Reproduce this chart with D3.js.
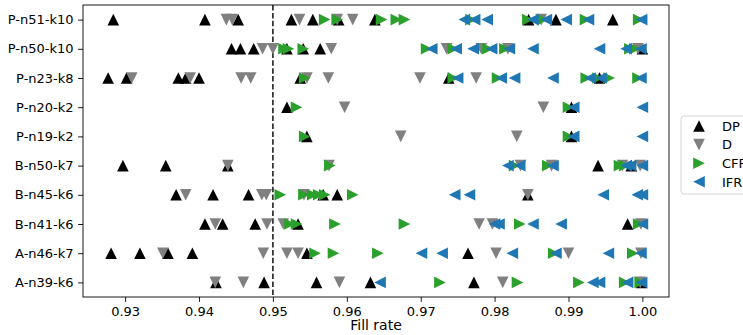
<!DOCTYPE html>
<html>
<head>
<meta charset="utf-8">
<script src="https://cdn.jsdelivr.net/npm/d3@7"></script>
<style>
  body { margin: 0; background: #fff; }
  svg { display: block; font-family: "DejaVu Sans", sans-serif; }
</style>
</head>
<body>
<div id="chart"></div>
<script>
// instances, top to bottom
const instances = ["P-n51-k10", "P-n50-k10", "P-n23-k8", "P-n20-k2", "P-n19-k2",
  "B-n50-k7", "B-n45-k6", "B-n41-k6", "A-n46-k7", "A-n39-k6"];

// fill rates per instance (same order as instances)
const dpRates = [
  [0.9284, 0.9408, 0.9453, 0.9525, 0.9554, 0.9589, 0.9638, 0.9846, 0.9883, 0.9960],
  [0.9444, 0.9456, 0.9474, 0.9519, 0.9541, 0.9564, 1.0000],
  [0.9277, 0.9302, 0.9372, 0.9382, 0.9400, 0.9537, 0.9738, 0.9942],
  [0.9519, 0.9904],
  [0.9546, 0.9904],
  [0.9297, 0.9355, 0.9439, 0.9940, 0.9985],
  [0.9369, 0.9419, 0.9467, 0.9568, 0.9587, 0.9845],
  [0.9408, 0.9432, 0.9476, 0.9534, 0.9980],
  [0.9281, 0.9320, 0.9358, 0.9391, 0.9546, 0.9764],
  [0.9423, 0.9488, 0.9559, 0.9632, 0.9772, 0.9999]
];
const dRates = [
  [0.9437, 0.9445, 0.9536, 0.9587, 0.9608, 0.9863],
  [0.9486, 0.9500, 0.9579, 0.9735, 0.9782, 0.9818, 0.9994],
  [0.9309, 0.9388, 0.9457, 0.9470, 0.9546, 0.9575, 0.9699, 0.9775],
  [0.9597, 0.9866],
  [0.9673, 0.9830],
  [0.9439, 0.9576, 0.9835, 0.9877, 0.9973, 0.9997],
  [0.9382, 0.9485, 0.9491, 0.9542, 0.9845],
  [0.9422, 0.9492, 0.9514, 0.9779, 0.9797, 0.9998],
  [0.9351, 0.9487, 0.9519, 0.9534, 0.9802, 0.9900, 0.9998],
  [0.9422, 0.9460, 0.9590, 0.9811, 0.9997]
];
const cfrRates = [
  [0.9570, 0.9587, 0.9647, 0.9667, 0.9678, 0.9768, 0.9845, 0.9865, 0.9923, 0.9995],
  [0.9515, 0.9521, 0.9541, 0.9708, 0.9744, 0.9791, 0.9814, 0.9983, 0.9990],
  [0.9543, 0.9744, 0.9804, 0.9924, 0.9940, 0.9955, 0.9994],
  [0.9532, 0.9900],
  [0.9543, 0.9900],
  [0.9577, 0.9827, 0.9872, 0.9969, 0.9976],
  [0.9510, 0.9542, 0.9554, 0.9562, 0.9570, 0.9608],
  [0.9523, 0.9532, 0.9584, 0.9678, 0.9834, 0.9995],
  [0.9557, 0.9582, 0.9642, 0.9880, 0.9987],
  [0.9726, 0.9831, 0.9914, 0.9976, 0.9997]
];
const ifrRates = [
  [0.9759, 0.9773, 0.9790, 0.9852, 0.9870, 0.9897, 0.9927, 0.9999],
  [0.9715, 0.9748, 0.9771, 0.9796, 0.9820, 0.9852, 0.9942, 0.9978, 0.9998],
  [0.9750, 0.9809, 0.9827, 0.9879, 0.9929, 0.9944, 0.9998],
  [0.9907, 1.0000],
  [0.9907, 1.0000],
  [0.9818, 0.9834, 0.9879, 0.9978, 0.9984, 1.0000],
  [0.9746, 0.9766, 0.9947, 0.9993, 1.0000],
  [0.9800, 0.9806, 0.9852, 0.9890, 1.0000],
  [0.9701, 0.9729, 0.9824, 0.9883, 0.9954, 0.9998],
  [0.9645, 0.9933, 0.9942, 0.9980, 0.9999]
];

const methods = ["DP", "D", "CFR", "IFR"];
const methodRates = [dpRates, dRates, cfrRates, ifrRates];
const methodColors = ["#000000", "#808080", "#2ca02c", "#1f77b4"];
const methodMarkers = ["up", "down", "right", "left"];

const xTicks = [0.93, 0.94, 0.95, 0.96, 0.97, 0.98, 0.99, 1.00];
const threshold = 0.95;

const largura = 743, altura = 335;
const margem = { top: 5, right: 74, bottom: 38, left: 83 };

const svg = d3.select("#chart").append("svg")
  .attr("width", largura)
  .attr("height", altura);

const x = d3.scaleLinear()
  .domain([0.9243, 1.0036])
  .range([margem.left, largura - margem.right]);

const y = d3.scalePoint()
  .domain(instances)
  .range([margem.top, altura - margem.bottom])
  .padding(0.5);

// triangle paths like matplotlib markers
const s = 5.8;
const markerPath = {
  up: `M0,${-s}L${s},${s}L${-s},${s}Z`,
  down: `M0,${s}L${s},${-s}L${-s},${-s}Z`,
  right: `M${s},0L${-s},${s}L${-s},${-s}Z`,
  left: `M${-s},0L${s},${s}L${s},${-s}Z`
};

// axes
const xAxis = svg.append("g")
  .attr("transform", `translate(0,${altura - margem.bottom})`)
  .call(d3.axisBottom(x).tickValues(xTicks).tickFormat(d3.format(".2f")).tickSize(4.9).tickPadding(4.5));
xAxis.select(".domain").remove();

const yAxis = svg.append("g")
  .attr("transform", `translate(${margem.left},0)`)
  .call(d3.axisLeft(y).tickSize(4.9).tickPadding(4.5));
yAxis.select(".domain").remove();

svg.selectAll(".tick text")
  .style("font-family", "DejaVu Sans")
  .style("font-size", "13px")
  .attr("fill", "#000");
svg.selectAll(".tick line").attr("stroke", "#000").attr("stroke-width", 0.9);

// dashed threshold
svg.append("line")
  .attr("x1", x(threshold)).attr("x2", x(threshold))
  .attr("y1", margem.top).attr("y2", altura - margem.bottom)
  .attr("stroke", "#000")
  .attr("stroke-width", 1.4)
  .attr("stroke-dasharray", "5.5,2.4");

// points
methods.forEach((m, mi) => {
  const pts = [];
  methodRates[mi].forEach((vals, ii) => vals.forEach(v => pts.push({ inst: instances[ii], v })));
  svg.append("g").selectAll("path")
    .data(pts)
    .enter()
    .append("path")
    .attr("transform", d => `translate(${x(d.v)},${y(d.inst)})`)
    .attr("d", markerPath[methodMarkers[mi]])
    .attr("fill", methodColors[mi]);
});

// frame
svg.append("rect")
  .attr("x", margem.left).attr("y", margem.top)
  .attr("width", largura - margem.right - margem.left)
  .attr("height", altura - margem.bottom - margem.top)
  .attr("fill", "none")
  .attr("stroke", "#000")
  .attr("stroke-width", 0.9);

// x label
svg.append("text")
  .attr("x", (margem.left + largura - margem.right) / 2)
  .attr("y", 330)
  .attr("text-anchor", "middle")
  .style("font-size", "14px")
  .text("Fill rate");

// legend
const legend = svg.append("g").attr("transform", "translate(681,116)");
legend.append("rect")
  .attr("width", 80).attr("height", 78)
  .attr("rx", 3)
  .attr("fill", "#fff").attr("fill-opacity", 0.8)
  .attr("stroke", "#d5d5d5");
methods.forEach((m, mi) => {
  const g = legend.append("g").attr("transform", `translate(18,${10 + mi * 18.6})`);
  g.append("path").attr("d", markerPath[methodMarkers[mi]]).attr("fill", methodColors[mi]);
  g.append("text")
    .attr("x", 23).attr("y", 4.8)
    .style("font-size", "13px")
    .text(m);
});
</script>
</body>
</html>
